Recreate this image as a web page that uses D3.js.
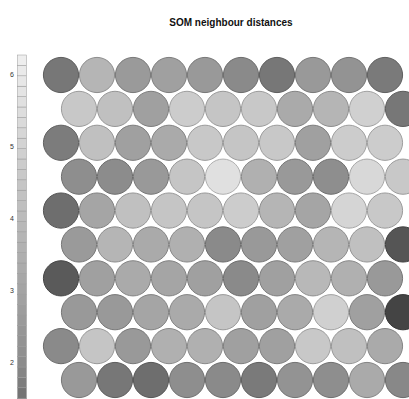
<!DOCTYPE html>
<html>
<head>
<meta charset="utf-8">
<script src="https://cdn.jsdelivr.net/npm/d3@7"></script>
<style>
  html, body { margin: 0; padding: 0; background: #fff; }
  svg { display: block; }
</style>
</head>
<body>
<script>
// SOM neighbour distances, 10 x 10 hexagonal map (rows listed top to bottom)
const title = "SOM neighbour distances";
const legendTicks = [2, 3, 4, 5, 6];

const row1  = [1.63, 3.76, 2.60, 2.86, 2.56, 1.96, 1.63, 2.56, 2.30, 1.68];
const row2  = [4.58, 4.24, 2.86, 4.75, 4.45, 4.58, 3.29, 3.76, 4.92, 1.63];
const row3  = [1.72, 4.24, 2.86, 3.29, 4.58, 4.45, 4.58, 2.86, 4.75, 4.75];
const row4  = [2.09, 2.00, 2.56, 4.45, 5.61, 3.55, 2.56, 2.09, 5.27, 4.58];
const row5  = [1.47, 3.07, 4.24, 4.45, 4.45, 4.75, 3.76, 3.07, 5.14, 4.58];
const row6  = [2.60, 3.76, 3.29, 3.55, 1.96, 2.56, 2.86, 3.76, 4.24, 1.03];
const row7  = [1.12, 2.86, 3.29, 3.07, 2.86, 1.96, 2.86, 3.89, 3.55, 2.56];
const row8  = [2.56, 2.56, 3.07, 3.29, 4.45, 2.86, 3.29, 4.92, 2.86, 0.73];
const row9  = [1.96, 4.45, 2.56, 3.55, 3.55, 2.86, 2.86, 4.58, 4.24, 3.29];
const row10 = [2.56, 1.63, 1.47, 2.09, 1.96, 1.68, 2.30, 2.09, 3.29, 1.93];

const rows = [row1, row2, row3, row4, row5, row6, row7, row8, row9, row10];

const W = 409, H = 399;

const svg = d3.select("body").append("svg")
  .attr("width", W).attr("height", H)
  .attr("viewBox", `0 0 ${W} ${H}`);

// grey palette: low distances dark, high distances light
const colour = d3.scaleLinear()
  .domain([0.5, 2, 6.3])
  .range(["#373737", "#8c8c8c", "#f0f0f0"])
  .clamp(true);

// unit positions: column 1..10 (odd rows from the bottom shifted by half a unit), row 1..10
const x = d3.scaleLinear().domain([1, 10]).range([61, 385]);
const y = d3.scaleLinear().domain([1, 10]).range([75, 380]);
const radius = (x(2) - x(1)) / 2 - 0.4;

const units = [];
rows.forEach((vals, r) => {
  const shift = (r % 2 === 1) ? 0.5 : 0;
  vals.forEach((v, c) => units.push({ col: c + 1 + shift, row: r + 1, value: v }));
});

svg.append("g").selectAll("circle")
  .data(units)
  .join("circle")
  .attr("cx", d => x(d.col))
  .attr("cy", d => y(d.row))
  .attr("r", radius)
  .attr("fill", d => colour(d.value))
  .attr("stroke", d => d3.color(colour(d.value)).darker(0.7))
  .attr("stroke-width", 1);

// colour key on the left
const ky = d3.scaleLinear().domain([2, 6]).range([363, 75]);
const keyLo = 0.5, keyHi = ky.invert(55), nBands = 40;
const edges = d3.range(nBands + 1).map(i => keyLo + i * (keyHi - keyLo) / nBands);
const bands = d3.pairs(edges);

const key = svg.append("g");
key.selectAll("rect")
  .data(bands)
  .join("rect")
  .attr("x", 17.5)
  .attr("width", 9)
  .attr("y", d => ky(d[1]))
  .attr("height", d => ky(d[0]) - ky(d[1]))
  .attr("fill", d => colour((d[0] + d[1]) / 2))
  .attr("stroke", "#9a9a9a")
  .attr("stroke-width", 0.5);

key.selectAll("text")
  .data(legendTicks)
  .join("text")
  .attr("x", 14)
  .attr("y", d => ky(d))
  .attr("dy", "0.35em")
  .attr("text-anchor", "end")
  .attr("font-family", "Liberation Sans, Arial, sans-serif")
  .attr("font-size", 7)
  .attr("fill", "#333")
  .text(d => d);

// title
svg.append("text")
  .attr("x", 231)
  .attr("y", 26)
  .attr("text-anchor", "middle")
  .attr("font-family", "Liberation Sans, Arial, sans-serif")
  .attr("font-weight", "bold")
  .attr("font-size", 10)
  .attr("fill", "#111")
  .text(title);
</script>
</body>
</html>
